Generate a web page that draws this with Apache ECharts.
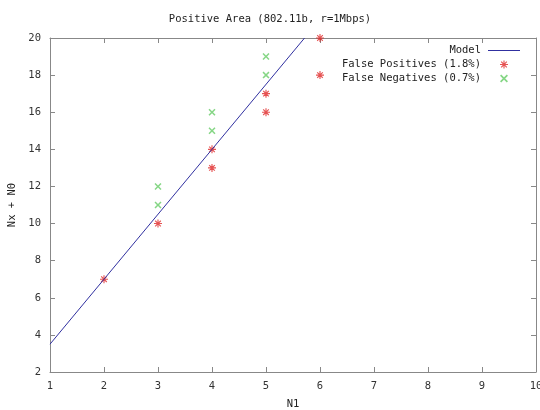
<!DOCTYPE html>
<html lang="en">
<head>
<meta charset="UTF-8">
<title>Positive Area</title>
<script src="https://cdn.jsdelivr.net/npm/echarts@6/dist/echarts.min.js"></script>
<style>
  html, body { margin: 0; padding: 0; background: #fff; }
  #chart { width: 540px; height: 410px; }
</style>
</head>
<body>
<div id="chart"></div>
<script>
// model line y = 3.5 * N1, clipped at top of the plot
var modelPoints = [[1, 3.5], [5.714, 20]];
var falsePositives = [[2, 7], [3, 10], [4, 13], [4, 14], [5, 16], [5, 17], [6, 18], [6, 20]];
var falseNegatives = [[3, 11], [3, 12], [4, 15], [4, 16], [5, 18], [5, 19]];

var FONT = 'DejaVu Sans Mono';
var GREY = '#888';
var BLUE = '#3030a0';
var RED = '#e02828';
var GREEN = '#66cc66';

var crossPath = 'path://M0,0.15 L0.15,0 L0.5,0.35 L0.85,0 L1,0.15 L0.65,0.5 L1,0.85 L0.85,1 L0.5,0.65 L0.15,1 L0,0.85 L0.35,0.5 Z';
var starPath = 'path://M0.43,0 L0.57,0 L0.57,1 L0.43,1 Z M0,0.43 L1,0.43 L1,0.57 L0,0.57 Z ' +
  'M0.1,0.2 L0.2,0.1 L0.5,0.4 L0.8,0.1 L0.9,0.2 L0.6,0.5 L0.9,0.8 L0.8,0.9 L0.5,0.6 L0.2,0.9 L0.1,0.8 L0.4,0.5 Z';
// thin horizontal stroke inside a 32x8 box for the legend sample
var lineIcon = 'path://M0,0 L0.01,0 Z M0,3.5 L32,3.5 L32,4.6 L0,4.6 Z M0,8 L0.01,8 Z';

var chart = echarts.init(document.getElementById('chart'));

function axisBase(show) {
  return {
    axisLine: { show: true, lineStyle: { color: GREY, width: 1 } },
    axisTick: { show: true, inside: true, length: 5, lineStyle: { color: GREY } },
    axisLabel: { show: show, color: '#333', fontFamily: FONT, fontSize: 10.5 },
    splitLine: { show: false }
  };
}

chart.setOption({
  animation: false,
  title: {
    text: 'Positive Area (802.11b, r=1Mbps)',
    left: 'center',
    top: 9,
    textStyle: { fontFamily: FONT, fontSize: 10.5, fontWeight: 'normal', color: '#222' }
  },
  grid: { left: 50, right: 4, top: 38, bottom: 38, outerBoundsMode: 'none' },
  legend: {
    orient: 'vertical',
    right: 15,
    top: 40,
    align: 'right',
    itemWidth: 36,
    itemHeight: 8,
    itemGap: 3,
    textStyle: { fontFamily: FONT, fontSize: 10.5, color: '#222' },
    data: [
      {
        name: 'Model', icon: lineIcon,
        itemStyle: { color: BLUE, borderWidth: 0 },
        lineStyle: { color: BLUE, width: 0 }
      },
      { name: 'False Positives (1.8%)', icon: starPath },
      { name: 'False Negatives (0.7%)', icon: crossPath }
    ]
  },
  xAxis: [
    Object.assign(axisBase(true), {
      type: 'value', min: 1, max: 10, interval: 1,
      name: 'N1', nameLocation: 'middle', nameGap: 27,
      nameTextStyle: { fontFamily: FONT, fontSize: 10.5, color: '#222' },
      axisLabel: { color: '#333', fontFamily: FONT, fontSize: 10.5, margin: 9 }
    }),
    Object.assign(axisBase(false), {
      type: 'value', min: 1, max: 10, interval: 1, position: 'top'
    })
  ],
  yAxis: [
    Object.assign(axisBase(true), {
      type: 'value', min: 2, max: 20, interval: 2,
      name: 'Nx + N0', nameLocation: 'middle', nameGap: 30,
      nameTextStyle: { fontFamily: FONT, fontSize: 10.5, color: '#222' },
      axisLabel: { color: '#333', fontFamily: FONT, fontSize: 10.5, margin: 9 }
    }),
    Object.assign(axisBase(false), {
      type: 'value', min: 2, max: 20, interval: 2, position: 'right'
    })
  ],
  series: [
    {
      name: 'Model',
      type: 'line',
      data: modelPoints,
      symbol: 'none',
      lineStyle: { color: BLUE, width: 1 },
      itemStyle: { color: BLUE }
    },
    {
      name: 'False Positives (1.8%)',
      type: 'scatter',
      data: falsePositives,
      symbol: starPath,
      symbolSize: 8,
      itemStyle: { color: RED }
    },
    {
      name: 'False Negatives (0.7%)',
      type: 'scatter',
      data: falseNegatives,
      symbol: crossPath,
      symbolSize: 7,
      itemStyle: { color: GREEN }
    }
  ]
});
</script>
</body>
</html>
